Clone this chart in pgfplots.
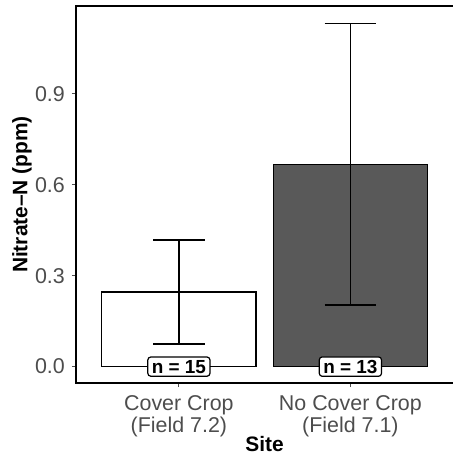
\documentclass[border=0pt]{standalone}
\usepackage{pgfplots}
\pgfplotsset{compat=1.18}
\usepackage{fontspec}
\setmainfont{Liberation Sans}
\definecolor{ticktext}{RGB}{77,77,77}
\definecolor{barfill}{RGB}{89,89,89}

\begin{document}
\begin{tikzpicture}
\path[use as bounding box] (-76bp,-74bp) rectangle (377bp,383bp);
\begin{axis}[
  at={(0,0)}, anchor=south west,
  scale only axis,
  width=381bp, height=377bp,
  xmin=0.4, xmax=2.6216,
  ymin=-0.054, ymax=1.189,
  axis line style={black, line width=1.3bp},
  xtick={1,2},
  xticklabels={{Cover Crop\\(Field 7.2)},{No Cover Crop\\(Field 7.1)}},
  ytick={0,0.3,0.6,0.9},
  yticklabels={0.0,0.3,0.6,0.9},
  tick align=outside,
  major tick length=4bp,
  tick style={ticktext, line width=0.8bp},
  xtick pos=bottom, ytick pos=left,
  /pgf/number format/assume math mode=true,
  xticklabel style={font=\fontsize{21.5}{22.5}\selectfont, text=ticktext, align=center, inner sep=0pt, yshift=-8bp},
  yticklabel style={font=\fontsize{21.5}{23}\selectfont, text=ticktext, inner sep=0pt, xshift=-7bp},
  xlabel={Site},
  ylabel={Nitrate–N (ppm)},
  every axis x label/.style={at={(axis cs:1.5,-0.054)}, anchor=center, yshift=-61.5bp, inner sep=0pt, font=\fontsize{21}{22}\selectfont\bfseries},
  every axis y label/.style={at={(axis description cs:-0.1417,0.5)}, rotate=90, anchor=center, inner sep=0pt, font=\fontsize{21}{22}\selectfont\bfseries},
  clip=false,
  eb/.style={black, line width=1.4bp, mark=none, forget plot},
]
% mean nitrate-N per site
\addplot[ybar, bar width=0.9, bar shift=0pt, draw=black, line width=1.3bp, fill=white]
  coordinates {(1,0.246)};
\addplot[ybar, bar width=0.9, bar shift=0pt, draw=black, line width=1.3bp, fill=barfill]
  coordinates {(2,0.667)};
% error bars: mean +/- standard error
\addplot[eb] coordinates {(1,0.074) (1,0.418)};
\addplot[eb] coordinates {(0.85,0.418) (1.15,0.418)};
\addplot[eb] coordinates {(0.85,0.074) (1.15,0.074)};
\addplot[eb] coordinates {(2,0.203) (2,1.131)};
\addplot[eb] coordinates {(1.85,1.131) (2.15,1.131)};
\addplot[eb] coordinates {(1.85,0.203) (2.15,0.203)};
% sample sizes
\node[draw=black, line width=1.2bp, rounded corners=3bp, fill=white,
  font=\fontsize{19}{19}\selectfont\bfseries, inner xsep=4bp, inner ysep=3bp]
  at (axis cs:1,0) {n = 15};
\node[draw=black, line width=1.2bp, rounded corners=3bp, fill=white,
  font=\fontsize{19}{19}\selectfont\bfseries, inner xsep=4bp, inner ysep=3bp]
  at (axis cs:2,0) {n = 13};
\end{axis}
\end{tikzpicture}
\end{document}
